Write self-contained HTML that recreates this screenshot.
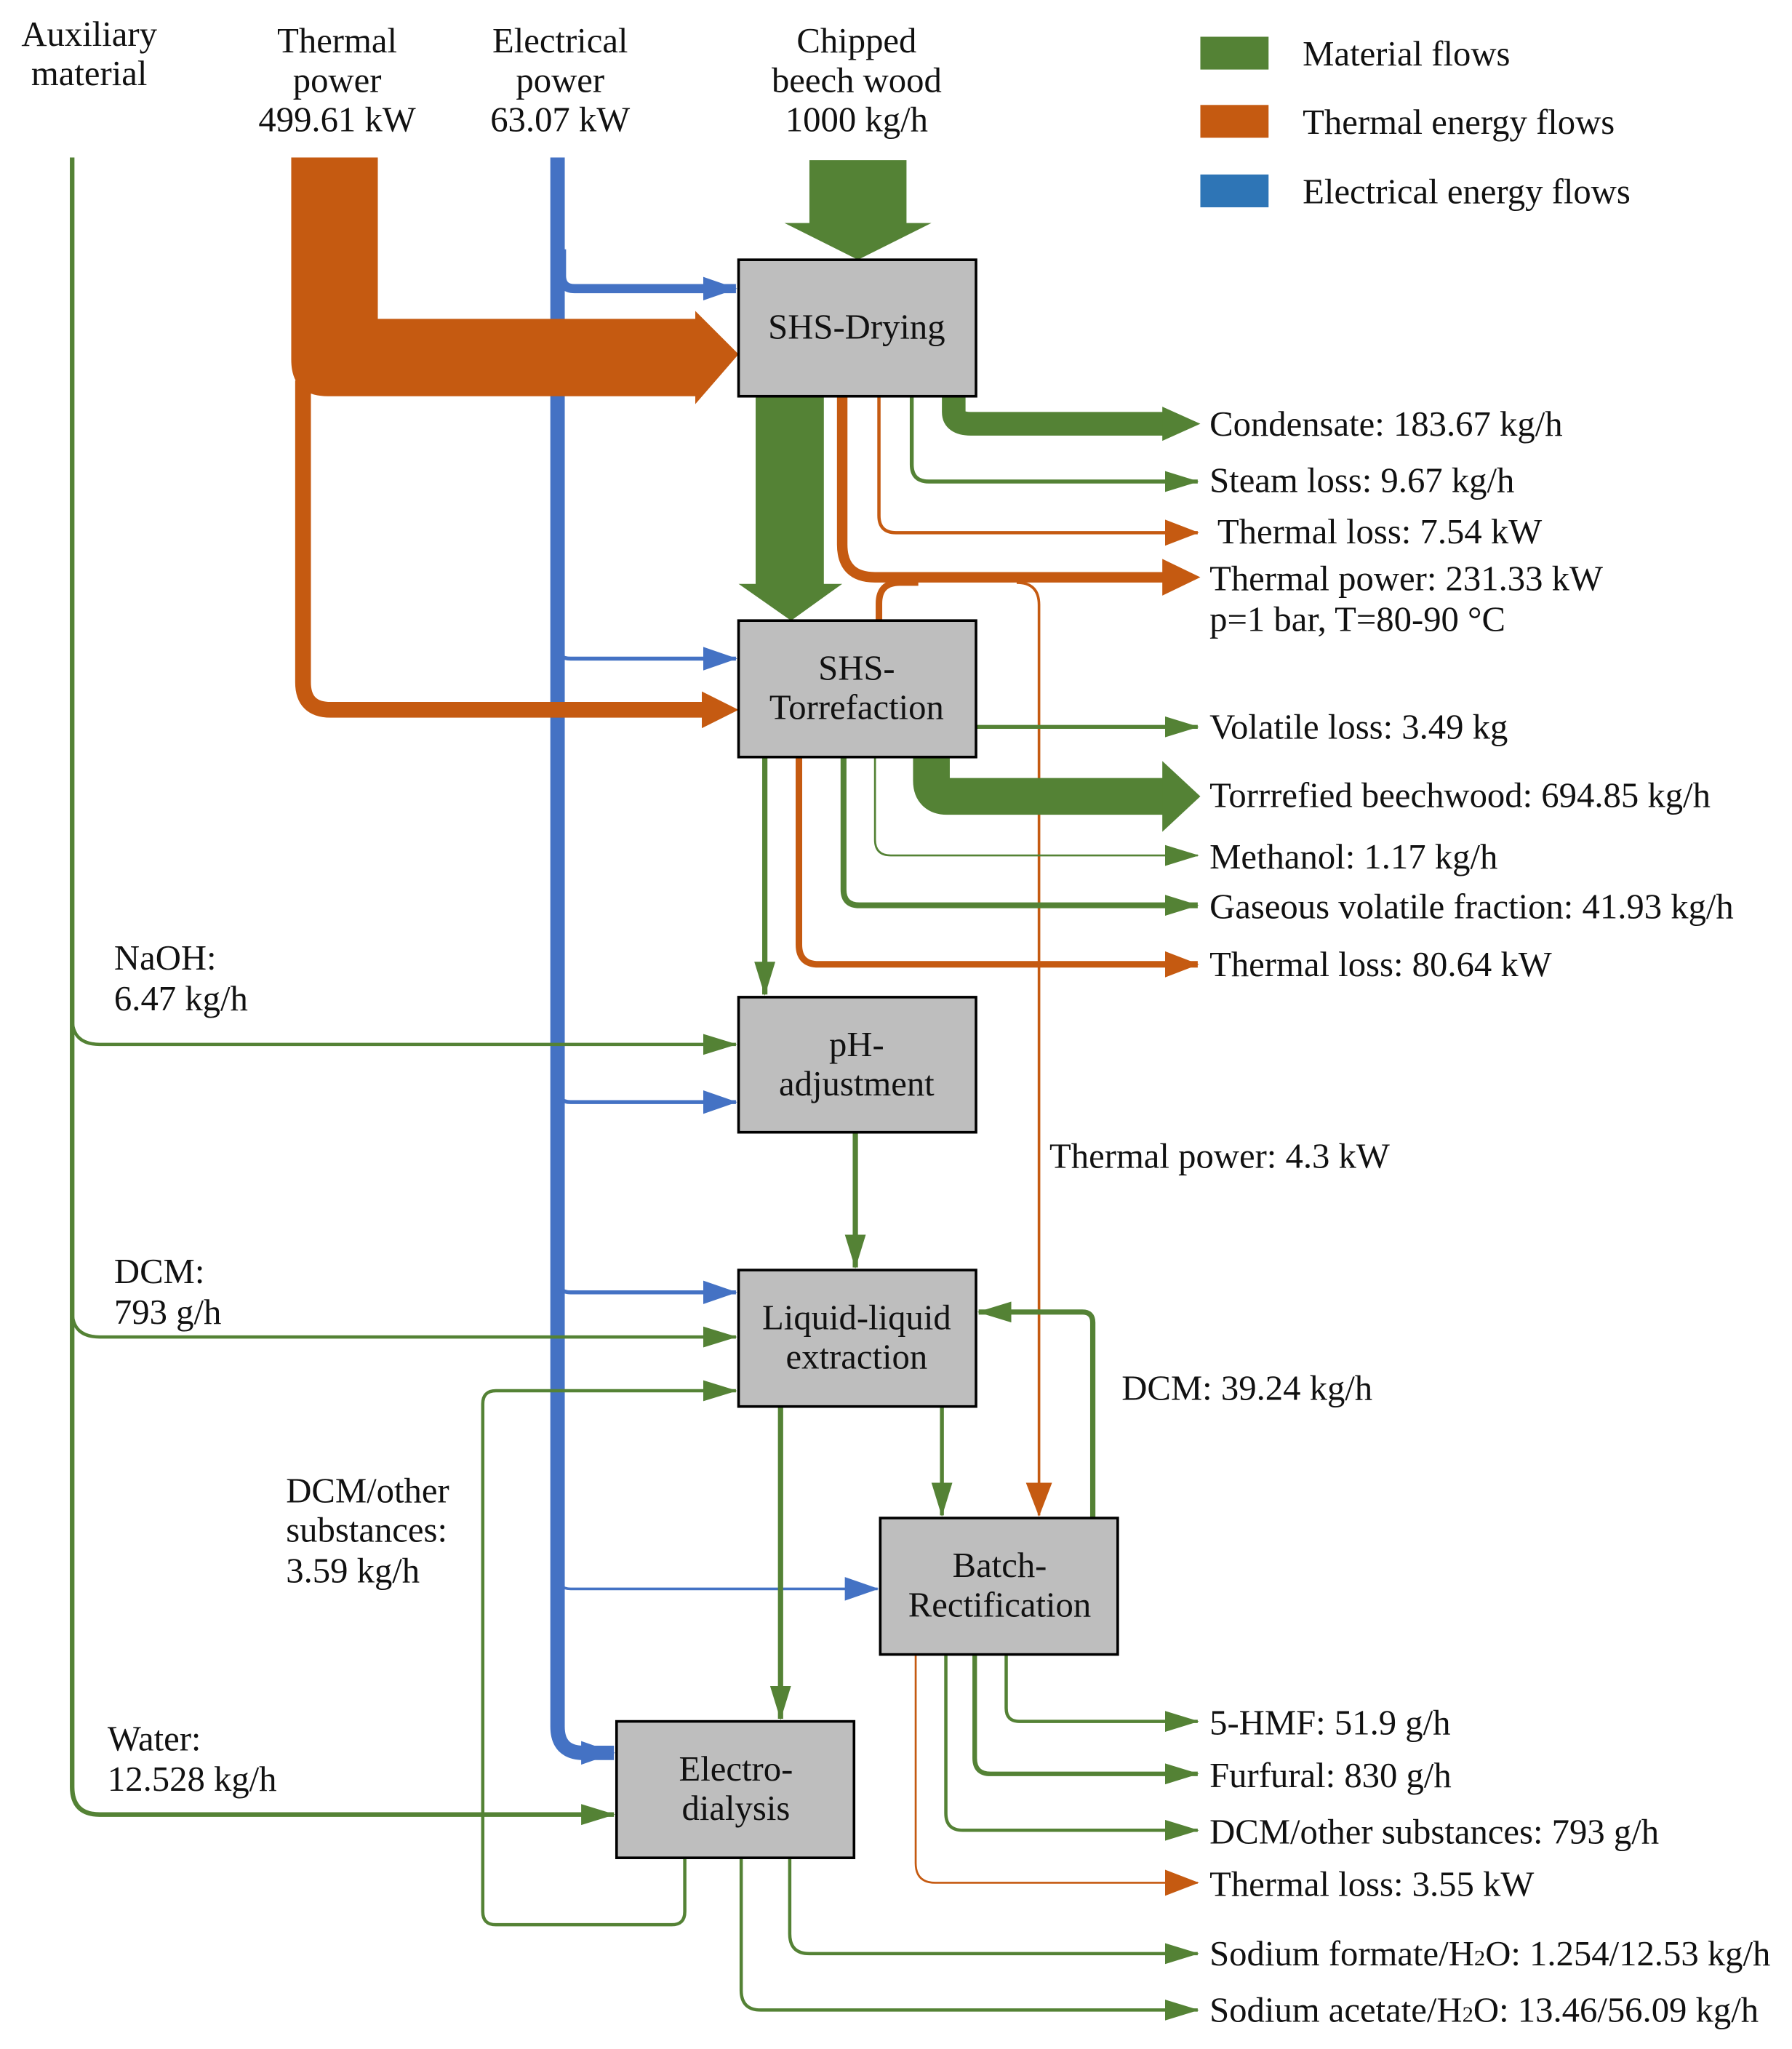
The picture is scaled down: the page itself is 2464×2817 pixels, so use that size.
<!DOCTYPE html>
<html><head><meta charset="utf-8"><style>
html,body{margin:0;padding:0;background:#fff}
svg{display:block}
text{font-family:"Liberation Serif",serif;font-size:27px;fill:#111}
</style></head><body>
<svg width="2464" height="2817" viewBox="0 0 1366 1561.7" xmlns="http://www.w3.org/2000/svg">
<defs>
<marker id="ag" markerUnits="userSpaceOnUse" markerWidth="26" markerHeight="20" refX="25" refY="10" orient="auto"><path d="M0,2 L26,10 L0,18 z" fill="#548235"/></marker>
<marker id="ao" markerUnits="userSpaceOnUse" markerWidth="26" markerHeight="24" refX="25" refY="12" orient="auto"><path d="M0,2 L26,12 L0,22 z" fill="#C55A11"/></marker>
<marker id="ab" markerUnits="userSpaceOnUse" markerWidth="26" markerHeight="24" refX="25" refY="12" orient="auto"><path d="M0,3 L26,12 L0,21 z" fill="#4472C4"/></marker>
</defs>
<g fill="none" stroke-linejoin="round">
<!-- blue main -->
<path d="M425,120 L425,1316 Q425,1336 445,1336 L468,1336" stroke="#4472C4" stroke-width="11" marker-end="url(#ab)"/>
<path d="M428,190 L428,210 Q428,220 438,220 L561,220" stroke="#4472C4" stroke-width="7" marker-end="url(#ab)"/>
<path d="M425,490 L425,494 Q425,502 435,502 L561,502" stroke="#4472C4" stroke-width="3" marker-end="url(#ab)"/>
<path d="M425,825 L425,830 Q425,840 435,840 L561,840" stroke="#4472C4" stroke-width="3" marker-end="url(#ab)"/>
<path d="M425,970 L425,975 Q425,985 435,985 L561,985" stroke="#4472C4" stroke-width="3" marker-end="url(#ab)"/>
<path d="M425,1195 L425,1201 Q425,1211 435,1211 L669,1211" stroke="#4472C4" stroke-width="2" marker-end="url(#ab)"/>
<!-- auxiliary green -->
<path d="M55,120 L55,1362 Q55,1383 76,1383 L468,1383" stroke="#548235" stroke-width="3.5" marker-end="url(#ag)"/>
<path d="M55,760 L55,776 Q55,796 76,796 L561,796" stroke="#548235" stroke-width="2.5" marker-end="url(#ag)"/>
<path d="M55,985 L55,999 Q55,1019 76,1019 L561,1019" stroke="#548235" stroke-width="2.5" marker-end="url(#ag)"/>
<!-- DCM/other loop -->
<path d="M522,1416 L522,1457 Q522,1467 512,1467 L378,1467 Q368,1467 368,1457 L368,1070 Q368,1060 378,1060 L561,1060" stroke="#548235" stroke-width="2.5" marker-end="url(#ag)"/>
<!-- thermal thin to torrefaction -->
<path d="M231,290 L231,520 Q231,541 252,541 L537,541" stroke="#C55A11" stroke-width="12" stroke-linejoin="miter"/>
<!-- drying outputs -->
<path d="M727,302 L727,314 Q727,323 740,323 L888,323" stroke="#548235" stroke-width="18"/>
<path d="M695,302 L695,354 Q695,367 708,367 L913,367" stroke="#548235" stroke-width="3" marker-end="url(#ag)"/>
<path d="M670,302 L670,393 Q670,406 683,406 L913,406" stroke="#C55A11" stroke-width="2.5" marker-end="url(#ao)"/>
<path d="M642,302 L642,415 Q642,440 667,440 L890,440" stroke="#C55A11" stroke-width="8"/>
<path d="M670,473 L670,460 Q670,444 686,444 L700,444" stroke="#C55A11" stroke-width="5"/>
<path d="M775,444 Q792,444 792,461 L792,1155" stroke="#C55A11" stroke-width="2" marker-end="url(#ao)"/>
<!-- torrefaction outputs -->
<path d="M744,554 L913,554" stroke="#548235" stroke-width="3" marker-end="url(#ag)"/>
<path d="M710,577 L710,595 Q710,607 722,607 L888,607" stroke="#548235" stroke-width="28"/>
<path d="M667,577 L667,640 Q667,652 679,652 L913,652" stroke="#548235" stroke-width="1.5" marker-end="url(#ag)"/>
<path d="M643,577 L643,678 Q643,690 655,690 L913,690" stroke="#548235" stroke-width="4.5" marker-end="url(#ag)"/>
<path d="M609,577 L609,720 Q609,735 624,735 L913,735" stroke="#C55A11" stroke-width="5" marker-end="url(#ao)"/>
<path d="M583,577 L583,758" stroke="#548235" stroke-width="4" marker-end="url(#ag)"/>
<path d="M652,863 L652,966" stroke="#548235" stroke-width="4" marker-end="url(#ag)"/>
<path d="M718,1072 L718,1155" stroke="#548235" stroke-width="3" marker-end="url(#ag)"/>
<path d="M595,1072 L595,1310" stroke="#548235" stroke-width="4" marker-end="url(#ag)"/>
<path d="M833,1157 L833,1008 Q833,1000 825,1000 L746,1000" stroke="#548235" stroke-width="4" marker-end="url(#ag)"/>
<!-- batch outputs -->
<path d="M767,1261 L767,1302 Q767,1312 777,1312 L913,1312" stroke="#548235" stroke-width="2.5" marker-end="url(#ag)"/>
<path d="M743,1261 L743,1340 Q743,1352 755,1352 L913,1352" stroke="#548235" stroke-width="3.5" marker-end="url(#ag)"/>
<path d="M721,1261 L721,1382 Q721,1395 734,1395 L913,1395" stroke="#548235" stroke-width="2.5" marker-end="url(#ag)"/>
<path d="M698,1261 L698,1420 Q698,1435 713,1435 L913,1435" stroke="#C55A11" stroke-width="1.5" marker-end="url(#ao)"/>
<path d="M602,1416 L602,1474 Q602,1489 617,1489 L913,1489" stroke="#548235" stroke-width="2.5" marker-end="url(#ag)"/>
<path d="M565,1416 L565,1517 Q565,1532 580,1532 L913,1532" stroke="#548235" stroke-width="2.5" marker-end="url(#ag)"/>
</g>
<!-- thick fills -->
<path d="M222,120 L288,120 L288,243 L530,243 L530,237 L563,270 L530,308 L530,302 L250,302 Q222,302 222,274 Z" fill="#C55A11"/>
<path d="M535,527 L563,541 L535,555 Z" fill="#C55A11"/>
<path d="M617,122 L691,122 L691,170 L710,170 L654,198 L598,170 L617,170 Z" fill="#548235"/>
<path d="M576,302 L628,302 L628,445 L642,445 L603,473 L563,445 L576,445 Z" fill="#548235"/>
<path d="M886,310 L915,323 L886,336 Z" fill="#548235"/>
<path d="M886,426 L915,440 L886,454 Z" fill="#C55A11"/>
<path d="M886,580 L915,607 L886,634 Z" fill="#548235"/>
<!-- boxes -->
<g fill="#BEBEBE" stroke="#000" stroke-width="2">
<rect x="563" y="198" width="181" height="104"/>
<rect x="563" y="473" width="181" height="104"/>
<rect x="563" y="760" width="181" height="103"/>
<rect x="563" y="968" width="181" height="104"/>
<rect x="671" y="1157" width="181" height="104"/>
<rect x="470" y="1312" width="181" height="104"/>
</g>
<g text-anchor="middle">
<text x="653" y="258">SHS-Drying</text>
<text x="653" y="518">SHS-</text><text x="653" y="548">Torrefaction</text>
<text x="653" y="805">pH-</text><text x="653" y="835">adjustment</text>
<text x="653" y="1013">Liquid-liquid</text><text x="653" y="1043">extraction</text>
<text x="762" y="1202">Batch-</text><text x="762" y="1232">Rectification</text>
<text x="561" y="1357">Electro-</text><text x="561" y="1387">dialysis</text>
<text x="68" y="35">Auxiliary</text><text x="68" y="65">material</text>
<text x="257" y="40">Thermal</text><text x="257" y="70">power</text><text x="257" y="100">499.61 kW</text>
<text x="427" y="40">Electrical</text><text x="427" y="70">power</text><text x="427" y="100">63.07 kW</text>
<text x="653" y="40">Chipped</text><text x="653" y="70">beech wood</text><text x="653" y="100">1000 kg/h</text>
</g>
<rect x="915" y="28" width="52" height="25" fill="#548235"/>
<rect x="915" y="80" width="52" height="25" fill="#C55A11"/>
<rect x="915" y="133" width="52" height="25" fill="#2E75B6"/>
<text x="993" y="50">Material flows</text>
<text x="993" y="102">Thermal energy flows</text>
<text x="993" y="155">Electrical energy flows</text>
<text x="922" y="332">Condensate: 183.67 kg/h</text>
<text x="922" y="375">Steam loss: 9.67 kg/h</text>
<text x="928" y="414">Thermal loss: 7.54 kW</text>
<text x="922" y="450">Thermal power: 231.33 kW</text>
<text x="922" y="481">p=1 bar, T=80-90 °C</text>
<text x="922" y="563">Volatile loss: 3.49 kg</text>
<text x="922" y="615">Torrrefied beechwood: 694.85 kg/h</text>
<text x="922" y="662">Methanol: 1.17 kg/h</text>
<text x="922" y="700">Gaseous volatile fraction: 41.93 kg/h</text>
<text x="922" y="744">Thermal loss: 80.64 kW</text>
<text x="800" y="890">Thermal power: 4.3 kW</text>
<text x="855" y="1067">DCM: 39.24 kg/h</text>
<text x="87" y="739">NaOH:</text><text x="87" y="770">6.47 kg/h</text>
<text x="87" y="978">DCM:</text><text x="87" y="1009">793 g/h</text>
<text x="218" y="1145">DCM/other</text><text x="218" y="1175">substances:</text><text x="218" y="1206">3.59 kg/h</text>
<text x="82" y="1334">Water:</text><text x="82" y="1365">12.528 kg/h</text>
<text x="922" y="1322">5-HMF: 51.9 g/h</text>
<text x="922" y="1362">Furfural: 830 g/h</text>
<text x="922" y="1405">DCM/other substances: 793 g/h</text>
<text x="922" y="1445">Thermal loss: 3.55 kW</text>
<text x="922" y="1498">Sodium formate/H<tspan font-size="17">2</tspan>O: 1.254/12.53 kg/h</text>
<text x="922" y="1541">Sodium acetate/H<tspan font-size="17">2</tspan>O: 13.46/56.09 kg/h</text>
</svg>
</body></html>
